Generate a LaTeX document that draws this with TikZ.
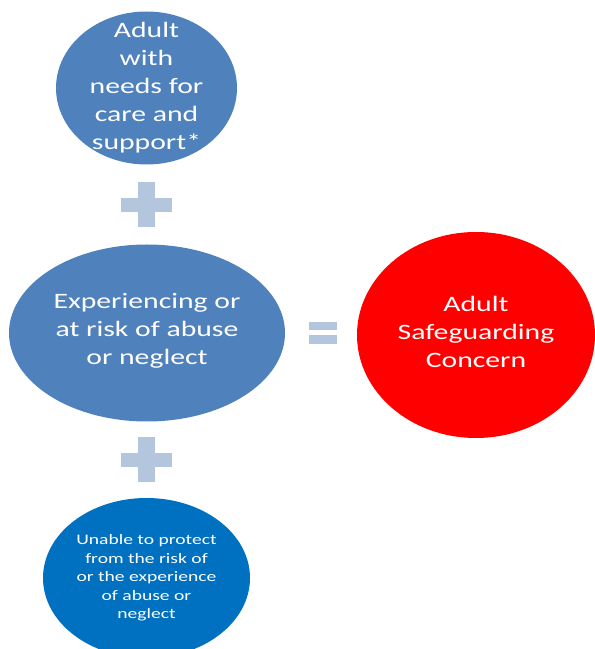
\documentclass[tikz,border=0pt]{standalone}
\usepackage{fontspec}
\setmainfont{Carlito}
\newfontfamily\widefont[FakeStretch=1.35]{Carlito}
\usetikzlibrary{shapes.geometric}
\definecolor{midblue}{HTML}{4F81BD}
\definecolor{deepblue}{HTML}{0070C0}
\definecolor{signblue}{HTML}{B4C5DE}
\begin{document}
\begin{tikzpicture}[x=1pt,y=1pt,
  blob/.style={ellipse,draw=none,inner sep=0pt},
  bigtext/.style={text=white,align=center,font=\widefont\fontsize{22}{28}\selectfont},
  smalltext/.style={text=white,align=center,font=\widefont\fontsize{14.5}{18.5}\selectfont},
  signbar/.style={fill=signblue,draw=none}]
\useasboundingbox (0,0) rectangle (595,649);
\clip (0,0) rectangle (595,649);
% ellipses (y = 649 - image y)
\node[blob,fill=midblue,minimum width=181pt,minimum height=153pt] (top) at (146.5,561) {};
\node[blob,fill=midblue,minimum width=276pt,minimum height=177pt] (mid) at (147,316) {};
\node[blob,fill=red,minimum width=238pt,minimum height=206pt] (res) at (476,314) {};
\node[blob,fill=deepblue,minimum width=207pt,minimum height=160pt] (bot) at (146.5,71) {};
% texts
\node[bigtext] (toptext) at (top.center) {Adult\\with\\needs for\\care and\\support*};
\node[bigtext] (midtext) at ([yshift=2pt]mid.center) {Experiencing or\\at risk of abuse\\or neglect};
\node[bigtext] (restext) at ([yshift=3pt]res.center) {Adult\\Safeguarding\\Concern};
\node[smalltext] (bottext) at (bot.center) {Unable to protect\\from the risk of\\or the experience\\of abuse or\\neglect};
% plus signs
\coordinate (plusA) at (146.5,444);
\coordinate (plusB) at (146.5,189);
\foreach \p in {plusA,plusB}{
  \fill[signbar] ([xshift=-25.5pt,yshift=-7pt]\p) rectangle ([xshift=25.5pt,yshift=7pt]\p);
  \fill[signbar] ([xshift=-8.5pt,yshift=-22.5pt]\p) rectangle ([xshift=8.5pt,yshift=22.5pt]\p);
}
% equals sign
\coordinate (eq) at (323,316);
\fill[signbar] ([xshift=-14pt,yshift=3pt]eq) rectangle ([xshift=14pt,yshift=11pt]eq);
\fill[signbar] ([xshift=-14pt,yshift=-11pt]eq) rectangle ([xshift=14pt,yshift=-2pt]eq);
\end{tikzpicture}
\end{document}
